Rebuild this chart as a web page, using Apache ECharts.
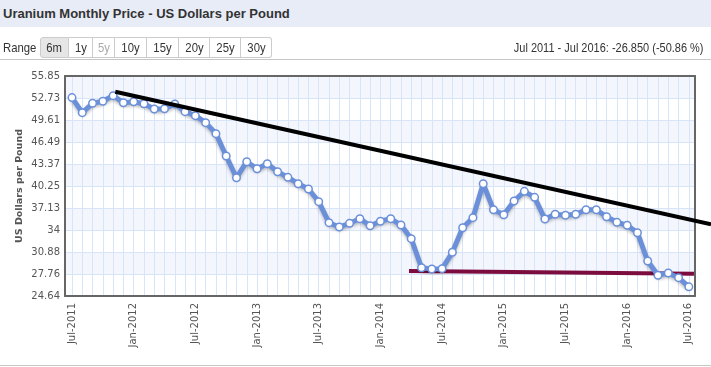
<!DOCTYPE html>
<html><head><meta charset="utf-8">
<script src="https://cdn.jsdelivr.net/npm/echarts@6/dist/echarts.min.js"></script>
<style>
html,body{margin:0;padding:0;background:#fff;width:711px;height:367px;overflow:hidden;font-family:"Liberation Sans",Arial,sans-serif;}
#chart{position:absolute;left:0;top:0;width:711px;height:367px;}
#titlebar{position:absolute;left:0;top:0;width:711px;height:27px;background:#e8ecf7;z-index:2;}
#title{position:absolute;left:3px;top:6px;font-size:13px;font-weight:bold;color:#333;white-space:nowrap;}
#range{position:absolute;left:3px;top:40px;font-size:13px;color:#333;z-index:2;transform:scaleX(0.87);transform-origin:0 0;}
#btns{position:absolute;left:40px;top:37px;height:21px;display:flex;z-index:2;}
.b{box-sizing:border-box;height:21px;font-size:13px;color:#333;line-height:20px;text-align:center;border:1px solid #ccc;border-left:none;background:#fff;overflow:hidden;}
.b:first-child{border-left:1px solid #ccc;border-radius:3px 0 0 3px;background:#e6e6e6;}
.b:last-child{border-radius:0 3px 3px 0;}
.b span{display:inline-block;transform:scaleX(0.87);}
.dis{color:#aaa;}
#chg{position:absolute;right:7px;top:40px;font-size:13px;color:#333;z-index:2;white-space:nowrap;transform:scaleX(0.845);transform-origin:100% 0;}
#sep1{position:absolute;left:0;top:59px;width:711px;height:1px;background:#c6c6c6;z-index:2;}
#sep2{position:absolute;left:0;top:365px;width:711px;height:1px;background:#c6c6c6;z-index:2;}
</style></head>
<body>
<div id="chart"></div>
<div id="titlebar"><div id="title">Uranium Monthly Price - US Dollars per Pound</div></div>
<div id="range">Range</div>
<div id="btns">
<div class="b" style="width:29px"><span>6m</span></div>
<div class="b" style="width:24px"><span>1y</span></div>
<div class="b dis" style="width:22px"><span>5y</span></div>
<div class="b" style="width:32px"><span>10y</span></div>
<div class="b" style="width:32px"><span>15y</span></div>
<div class="b" style="width:31px"><span>20y</span></div>
<div class="b" style="width:31px"><span>25y</span></div>
<div class="b" style="width:31px"><span>30y</span></div>
</div>
<div id="chg">Jul 2011 - Jul 2016: -26.850 (-50.86 %)</div>
<div id="sep1"></div>
<div id="sep2"></div>
<script>
const months = ['Jul-2011','Aug-2011','Sep-2011','Oct-2011','Nov-2011','Dec-2011',
'Jan-2012','Feb-2012','Mar-2012','Apr-2012','May-2012','Jun-2012',
'Jul-2012','Aug-2012','Sep-2012','Oct-2012','Nov-2012','Dec-2012',
'Jan-2013','Feb-2013','Mar-2013','Apr-2013','May-2013','Jun-2013',
'Jul-2013','Aug-2013','Sep-2013','Oct-2013','Nov-2013','Dec-2013',
'Jan-2014','Feb-2014','Mar-2014','Apr-2014','May-2014','Jun-2014',
'Jul-2014','Aug-2014','Sep-2014','Oct-2014','Nov-2014','Dec-2014',
'Jan-2015','Feb-2015','Mar-2015','Apr-2015','May-2015','Jun-2015',
'Jul-2015','Aug-2015','Sep-2015','Oct-2015','Nov-2015','Dec-2015',
'Jan-2016','Feb-2016','Mar-2016','Apr-2016','May-2016','Jun-2016','Jul-2016'];
const xTickLabels = ['Jul-2011','Jan-2012','Jul-2012','Jan-2013','Jul-2013','Jan-2014','Jul-2014','Jan-2015','Jul-2015','Jan-2016','Jul-2016'];
const prices = [52.79,50.65,51.98,52.26,53.06,52.06,52.20,51.92,51.17,51.21,51.88,50.79,
50.22,49.23,47.67,44.50,41.42,43.69,42.70,43.41,42.27,41.47,40.57,39.82,
38.02,35.04,34.43,34.95,35.61,34.61,35.24,35.61,34.71,32.77,28.65,28.47,
28.52,30.84,34.33,35.75,40.57,36.88,36.17,38.12,39.49,38.64,35.56,36.23,
36.09,36.23,36.88,36.88,35.89,35.10,34.67,33.62,29.60,27.58,27.90,27.24,25.94];
const yTickLabels = ['24.64','27.76','30.88','34','37.13','40.25','43.37','46.49','49.61','52.73','55.85'];
const yMin = 24.64, yMax = 55.85, yStep = 3.121;
// trend lines (month index, price)
const resistanceX = [4.21, 62.16];
const resistanceY = [53.62, 34.80];
const supportX = [32.78, 60.5];
const supportY = [28.19, 27.80];

const xMin = -0.68, xMax = 60.6;
const W = 711, gridL = 65, gridR = 16;
// the overlay grid reaches the page's right edge so the trend line can run past the plot frame
const xMaxWide = xMin + (xMax - xMin) * (W - gridL) / (W - gridL - gridR);
const chart = echarts.init(document.getElementById('chart'));
const blue = '#6b90d9';
const xLabel = v => {
  const i = Math.round(v);
  if (Math.abs(v - i) > 1e-6) return '';
  if (i % 6 !== 0 || !months[i]) return '';
  return xTickLabels.indexOf(months[i]) >= 0 ? months[i] : '';
};
const yLabel = v => { const k = Math.round((v - yMin) / yStep); return yTickLabels[k] || ''; };
const axisLine = {show:true, onZero:false, lineStyle:{color:'#666', width:2}};
const hidden = {axisLine:{show:false}, axisTick:{show:false}, axisLabel:{show:false}, splitLine:{show:false}};
chart.setOption({
  animation:false,
  grid:[{left:gridL, right:gridR, top:76, bottom:71}, {left:gridL, right:0, top:76, bottom:71}],
  xAxis:[{
    type:'value', min:xMin, max:xMax, splitNumber:60, minInterval:1, maxInterval:1,
    axisLine:axisLine, axisTick:{show:false},
    axisLabel:{formatter:xLabel, rotate:90, margin:7, fontSize:10, color:'#555', fontFamily:'DejaVu Sans', showMinLabel:false, showMaxLabel:false},
    splitLine:{show:true, lineStyle:{color:'#d8e4f8', width:1}}
  },{
    type:'value', position:'top', min:xMin, max:xMax, axisLine:axisLine, axisTick:{show:false}, axisLabel:{show:false}, splitLine:{show:false}
  },
  Object.assign({type:'value', gridIndex:1, min:xMin, max:xMaxWide}, hidden)
  ],
  yAxis:[{
    type:'value', min:yMin, max:yMax, interval:yStep,
    axisLine:axisLine, axisTick:{show:false},
    axisLabel:{formatter:yLabel, margin:5, fontSize:10, color:'#555', fontFamily:'DejaVu Sans'},
    splitLine:{show:true, lineStyle:{color:'#d8e4f8', width:1}},
    splitArea:{show:true, areaStyle:{color:['rgba(255,255,255,0)','#f3f6fd']}},
    name:'US Dollars per Pound', nameLocation:'middle', nameGap:40, nameMoveOverlap:false,
    nameTextStyle:{fontSize:9.5, fontWeight:'bold', color:'#555', fontFamily:'DejaVu Sans'}
  },{
    type:'value', position:'right', min:yMin, max:yMax, axisLine:axisLine, axisTick:{show:false}, axisLabel:{show:false}, splitLine:{show:false}
  },
  Object.assign({type:'value', gridIndex:1, min:yMin, max:yMax}, hidden)
  ],
  series:[{
    type:'line', data:supportX.map((x,i)=>[x, supportY[i]]), symbol:'none', z:2,
    lineStyle:{color:'#7d0c3e', width:4}
  },{
    type:'line', data:prices.map((p,i)=>[i,p]), z:3,
    symbol:'circle', symbolSize:7.5,
    lineStyle:{color:blue, width:5, shadowColor:'rgba(0,0,0,0.25)', shadowBlur:3, shadowOffsetY:2},
    itemStyle:{color:'#fff', borderColor:blue, borderWidth:1.5}
  },{
    type:'line', xAxisIndex:2, yAxisIndex:2, data:resistanceX.map((x,i)=>[x, resistanceY[i]]), symbol:'none', z:4, clip:false,
    lineStyle:{color:'#000', width:4}
  }]
});
</script>
</body></html>
